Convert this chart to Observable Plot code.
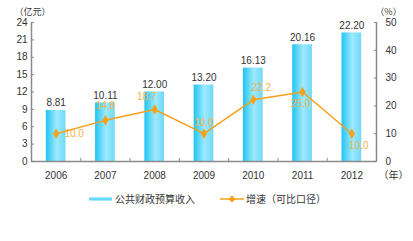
<!DOCTYPE html>
<html><head><meta charset="utf-8">
<script src="https://cdn.jsdelivr.net/npm/d3@7"></script>
<script src="https://cdn.jsdelivr.net/npm/@observablehq/plot@0.6"></script>
<style>
body{margin:0;background:#fff;font-family:Arial,"Liberation Sans","Noto Sans CJK SC",sans-serif;}
#chart{width:413px;}
.legend{position:relative;height:18px;font-family:"Noto Sans CJK SC",sans-serif;font-size:10px;color:#333;}
.legend .sw1{position:absolute;left:89px;top:7px;width:23px;height:4px;background:linear-gradient(to bottom,#bff2ff,#4fd2f7,#bff2ff);}
.legend .t1{position:absolute;left:115px;top:1px;line-height:16px;}
.legend .sw2{position:absolute;left:220px;top:3px;}
.legend .t2{position:absolute;left:246px;top:1px;line-height:16px;}
</style></head><body>
<div id="chart"></div>
<script>
const years = [2006, 2007, 2008, 2009, 2010, 2011, 2012];
const revenue = [8.81, 10.11, 12.00, 13.20, 16.13, 20.16, 22.20];
const growth = [10.0, 14.8, 18.7, 10.0, 22.2, 25.0, 10.0];
const leftTicks = [0, 3, 6, 9, 12, 15, 18, 21, 24];
const rightTicks = [0, 10, 20, 30, 40, 50];
const seriesNames = ["公共财政预算收入", "增速（可比口径）"];
const unitLeft = "（亿元）", unitRight = "（%）", unitX = "（年）";

// label placement (style only)
const growthLabelOffset = [[18,0],[0,-15],[-8,-13],[0,-11],[8,-12],[-2,12],[7,12]];

const ratio = 24 / 50;
const rows = years.map((y, i) => ({year: y, revenue: revenue[i], growth: growth[i]}));
const xDomain = [years[0] - 0.5, years[years.length - 1] + 0.5];
const boundaries = years.slice(0, -1).map(y => y + 0.5);

const orange = "#f7a11a";
const axisColor = "#8a8a8a";
const cjk = "'Noto Sans CJK SC', sans-serif";

const plot = Plot.plot({
  width: 413, height: 190,
  marginLeft: 31, marginRight: 37, marginTop: 22, marginBottom: 29,
  x: {type: "linear", domain: xDomain, axis: null},
  y: {domain: [0, 24], axis: null},
  style: {fontFamily: "Arial, 'Liberation Sans', sans-serif", fontSize: "10px", color: "#333", background: "#fff"},
  marks: [
    Plot.rectY(rows, {x1: d => d.year - 0.2, x2: d => d.year + 0.2, y: "revenue", fill: "url(#barGrad)"}),
    Plot.text(rows, {x: "year", y: "revenue", text: d => d.revenue.toFixed(2), lineAnchor: "bottom", dy: -4, fill: "#333", fontSize: 10}),
    ...rows.map((r, i) => Plot.text([r], {x: "year", y: d => d.growth * ratio, text: d => d.growth.toFixed(1),
      dx: growthLabelOffset[i][0], dy: growthLabelOffset[i][1], fill: "#f4b04a", fontSize: 10})),
    Plot.line(rows, {x: "year", y: d => d.growth * ratio, stroke: orange, strokeWidth: 1.5}),
    Plot.dot(rows, {x: "year", y: d => d.growth * ratio, symbol: "diamond", r: 3.2, fill: orange}),
    Plot.ruleX([xDomain[0]], {stroke: axisColor, strokeWidth: 1.5}),
    Plot.ruleX([xDomain[1]], {stroke: axisColor, strokeWidth: 1.5}),
    Plot.ruleY([0], {stroke: axisColor, strokeWidth: 1.5}),
    Plot.axisY(leftTicks, {anchor: "left", tickSize: -3, tickPadding: 7, stroke: axisColor, label: null, fill: "#333"}),
    Plot.axisY(rightTicks.map(v => v * ratio), {anchor: "right", tickSize: -3, tickPadding: 12, stroke: axisColor,
      tickFormat: d => String(Math.round(d / ratio)), label: null, fill: "#333"}),
    Plot.axisX(years, {anchor: "bottom", tickSize: 0, tickPadding: 10, tickFormat: d => String(d), label: null, fill: "#333"}),
    Plot.axisX(boundaries, {anchor: "bottom", tickSize: -3, tickFormat: () => "", stroke: axisColor, label: null}),
    Plot.text([unitLeft], {frameAnchor: "top-left", text: d => d, dy: -14, dx: 1, textAnchor: "middle", fill: "#333", fontFamily: cjk, fontSize: 9}),
    Plot.text([unitRight], {frameAnchor: "top-right", text: d => d, dy: -14, dx: 12, textAnchor: "middle", fill: "#333", fontFamily: cjk, fontSize: 9}),
    Plot.text([unitX], {frameAnchor: "bottom-right", text: d => d, dy: 17, dx: 17, textAnchor: "middle", fill: "#333", fontFamily: cjk, fontSize: 10})
  ]
});

const ns = "http://www.w3.org/2000/svg";
const defs = document.createElementNS(ns, "defs");
defs.innerHTML = `<linearGradient id="barGrad" x1="0" y1="0" x2="1" y2="0">
  <stop offset="0" stop-color="#1fc4f3"/><stop offset="0.55" stop-color="#9fe9fd"/><stop offset="1" stop-color="#70d9f8"/></linearGradient>`;
plot.insertBefore(defs, plot.firstChild);
document.getElementById("chart").appendChild(plot);

const legend = document.createElement("div");
legend.className = "legend";
legend.innerHTML = `<div class="sw1"></div><span class="t1">${seriesNames[0]}</span>
<svg class="sw2" width="24" height="12"><line x1="0" y1="6" x2="24" y2="6" stroke="${orange}" stroke-width="1.5"/><path d="M12,2.5L15.5,6L12,9.5L8.5,6Z" fill="${orange}"/></svg>
<span class="t2">${seriesNames[1]}</span>`;
document.getElementById("chart").appendChild(legend);
</script>
</body></html>
